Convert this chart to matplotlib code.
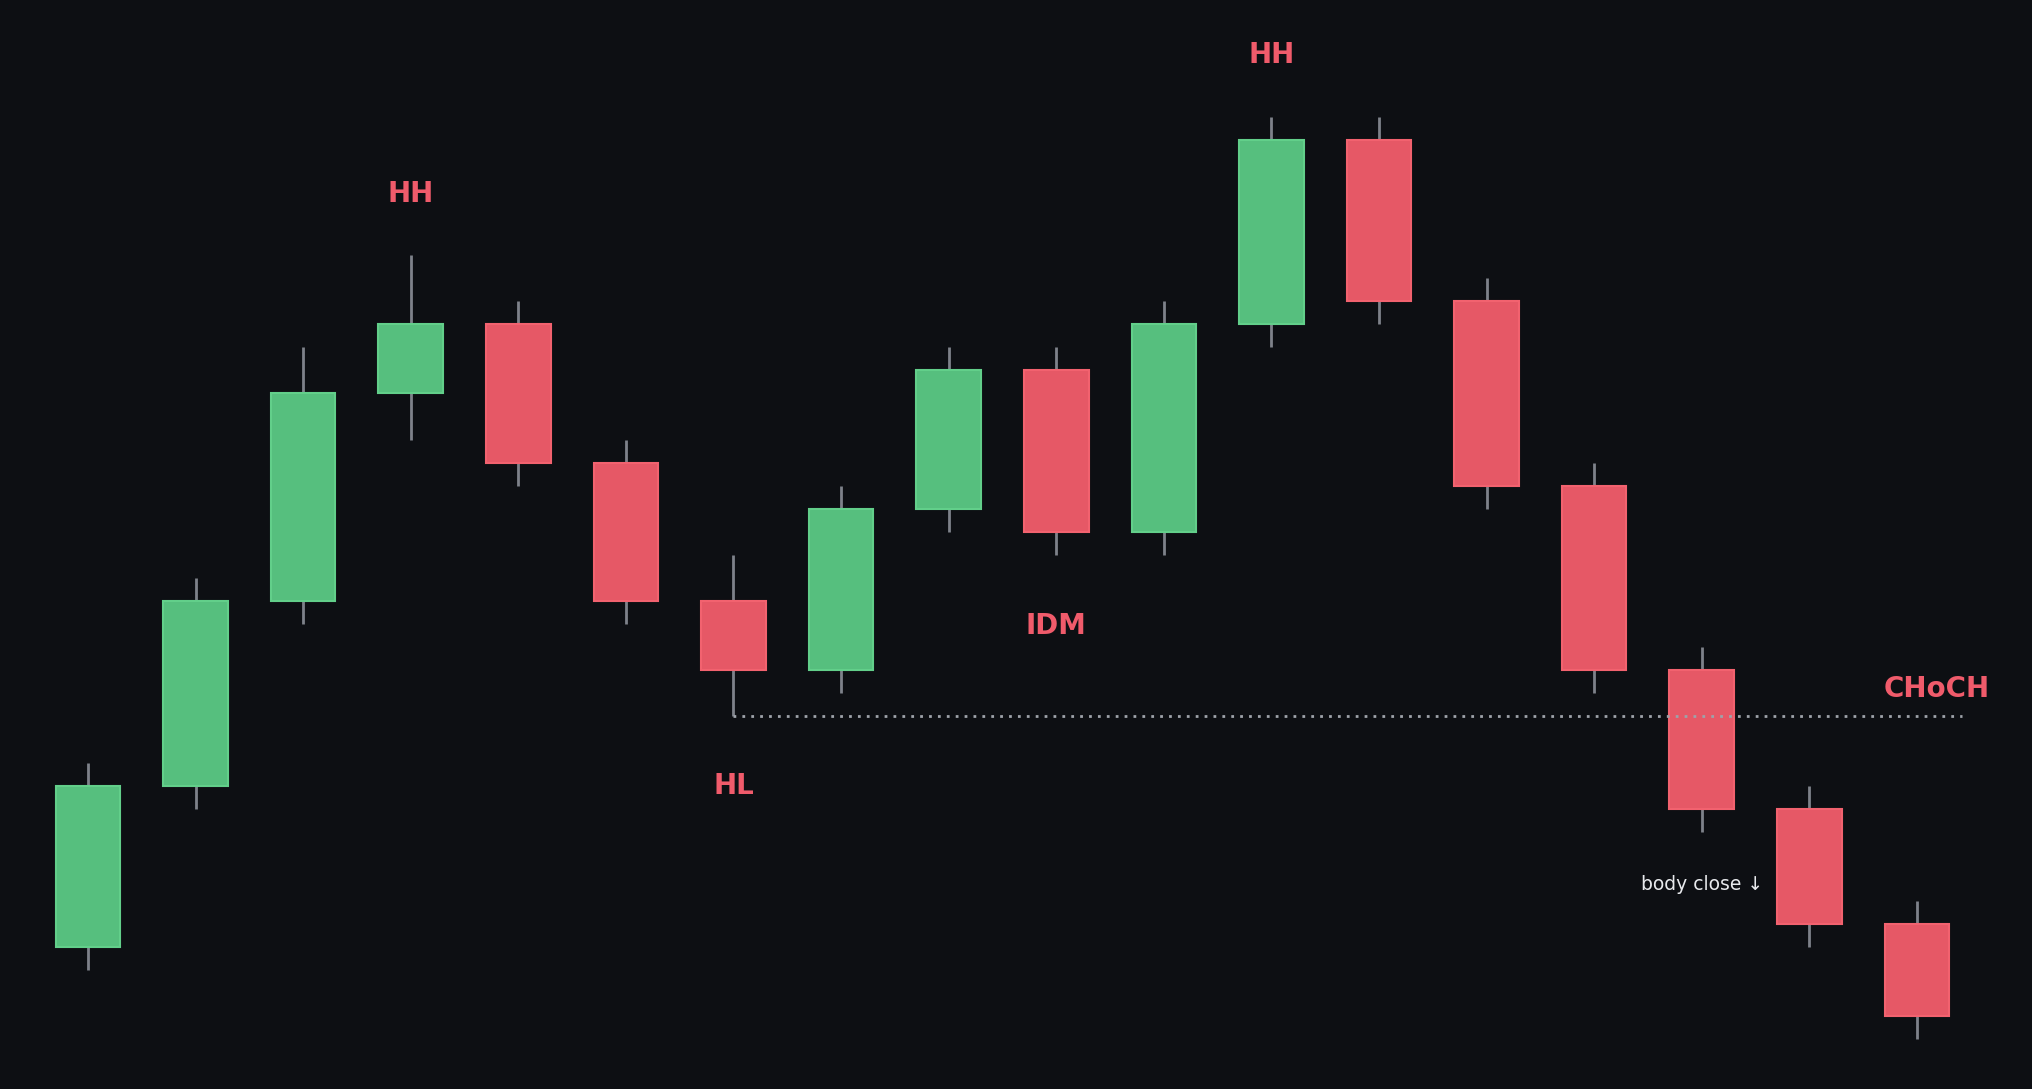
#Candlestick sketch: HH / HL / IDM / CHoCH market structure on a dark background
import numpy as np
import matplotlib.pyplot as plt
from matplotlib.patches import Rectangle

#Candle data (price in arbitrary units)
opens  = [4, 11, 19, 28, 31, 25, 19, 16, 23, 29, 22, 31, 39, 32, 24, 16, 10, 5]
closes = [11, 19, 28, 31, 25, 19, 16, 23, 29, 22, 31, 39, 32, 24, 16, 10, 5, 1]
highs  = [12, 20, 30, 34, 32, 26, 21, 24, 30, 30, 32, 40, 40, 33, 25, 17, 11, 6]
lows   = [3, 10, 18, 26, 24, 18, 14, 15, 22, 21, 21, 30, 31, 23, 15, 9, 4, 0]

#Labels: (text, x index, price)
labels = ['HH', 'HL', 'IDM', 'HH', 'CHoCH']
label_x = [3, 6, 9, 11, 17.18]
label_y = [36.65, 11.0, 17.9, 42.65, 15.2]

#liquidity line from the HL low
line_start = 6
line_end = 17.42
line_level = lows[6]

bg = '#0d0f13'
green = '#56bf7e'
green_edge = '#62cf8a'
red = '#e65866'
red_edge = '#f2626f'
wick = '#7e828a'
label_col = '#f05b6b'

fig = plt.figure(figsize=(20.32, 10.89), dpi=100, facecolor=bg)
ax = fig.add_axes([0, 0, 1, 1])
ax.set_facecolor(bg)

w = 0.6
for i, (o, c, h, l) in enumerate(zip(opens, closes, highs, lows)):
    up = c >= o
    ax.plot([i, i], [l, h], color=wick, lw=2, zorder=1, solid_capstyle='butt')
    ax.add_patch(Rectangle((i - w/2, min(o, c)), w, abs(c - o),
                           facecolor=green if up else red,
                           edgecolor=green_edge if up else red_edge,
                           lw=1.5, zorder=2))

ax.plot([line_start, line_end], [line_level, line_level], color='#9ea3aa',
        lw=2, dashes=(1, 2.2), zorder=3)

for t, x, y in zip(labels, label_x, label_y):
    ax.text(x, y, t, color=label_col, fontsize=20, fontweight='bold',
            ha='center', va='center', zorder=4)

ax.text(15.0, 6.7, 'body close \u2193', color='#e8eaed', fontsize=13.5,
        ha='center', va='center', zorder=4)

ax.set_xlim(-0.818, 18.07)
ax.set_ylim(-2.15, 45.05)
ax.axis('off')

plt.savefig('out.png', dpi=100, facecolor=bg)
